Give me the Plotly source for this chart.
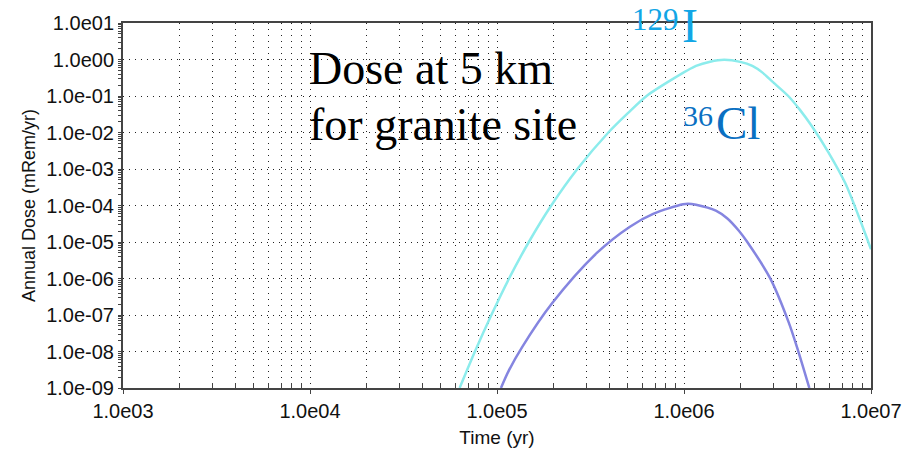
import plotly.graph_objects as go

# ---- data ----
i129_time = [6.31e4, 7.62e4, 9.33e4, 1.16e5, 1.48e5, 1.95e5, 2.69e5, 3.94e5, 5.01e5,
             6.31e5, 8.73e5, 1.16e6, 1.38e6, 1.64e6, 2.00e6, 2.32e6, 2.63e6, 2.96e6,
             3.61e6, 4.17e6, 4.83e6, 5.93e6, 7.28e6, 8.57e6, 9.66e6, 1.0e7]
i129_dose = [1.0e-9, 1.0e-8, 1.0e-7, 1.0e-6, 1.0e-5, 1.0e-4, 1.0e-3, 1.0e-2, 3.39e-2,
             1.0e-1, 2.94e-1, 6.67e-1, 8.71e-1, 9.77e-1, 8.61e-1, 6.67e-1, 4.37e-1, 2.51e-1,
             1.0e-1, 4.17e-2, 1.48e-2, 2.82e-3, 4.12e-4, 5.25e-5, 1.02e-5, 6.3e-6]

cl36_time = [1.05e5, 1.16e5, 1.36e5, 1.97e5, 3.42e5, 5.14e5, 6.84e5,
             9.89e5, 1.05e6, 1.16e6, 1.48e6, 1.70e6, 1.97e6, 2.18e6, 2.90e6, 3.63e6,
             4.10e6, 4.68e6]
cl36_dose = [1.0e-9, 3.09e-9, 1.30e-8, 2.09e-7, 5.01e-6, 2.63e-5, 5.89e-5,
             1.08e-4, 1.12e-4, 1.05e-4, 7.24e-5, 4.47e-5, 2.0e-5, 1.0e-5, 9.8e-7, 6.3e-8,
             9.5e-9, 1.0e-9]

x_tick_vals = [1e3, 1e4, 1e5, 1e6, 1e7]
x_tick_text = ["1.0e03", "1.0e04", "1.0e05", "1.0e06", "1.0e07"]
y_tick_vals = [1e1, 1e0, 1e-1, 1e-2, 1e-3, 1e-4, 1e-5, 1e-6, 1e-7, 1e-8, 1e-9]
y_tick_text = ["1.0e01", "1.0e00", "1.0e-01", "1.0e-02", "1.0e-03", "1.0e-04",
               "1.0e-05", "1.0e-06", "1.0e-07", "1.0e-08", "1.0e-09"]

x_minor = [m * 10 ** e for e in range(3, 7) for m in range(2, 10)]
y_minor = [m * 10.0 ** e for e in range(-9, 1) for m in range(2, 10)]

fig = go.Figure()
fig.add_trace(go.Scatter(x=i129_time, y=i129_dose, mode="lines", name="I-129",
                         line=dict(color="#8CECEC", width=2.5, shape="spline", smoothing=0.8)))
fig.add_trace(go.Scatter(x=cl36_time, y=cl36_dose, mode="lines", name="Cl-36",
                         line=dict(color="#8585E0", width=2.5, shape="spline", smoothing=0.9)))

sans = "Liberation Sans, Arial, sans-serif"
tick_font = dict(family=sans, size=20, color="#111")
grid_dash = "1px,5px"

fig.update_xaxes(type="log", range=[3, 7], tickmode="array", tickvals=x_tick_vals,
                 ticktext=x_tick_text, tickfont=tick_font,
                 showline=True, linecolor="#444", linewidth=2, mirror=True,
                 ticks="outside", ticklen=4, tickcolor="#444",
                 showgrid=True, gridcolor="#222", griddash=grid_dash, gridwidth=1,
                 zeroline=False,
                 minor=dict(tickmode="array", tickvals=x_minor, ticks="inside", ticklen=5,
                            tickcolor="#444", showgrid=True, gridcolor="#222",
                            griddash=grid_dash, gridwidth=1),
                 title=dict(text="Time (yr)", font=dict(family=sans, size=19, color="#111"),
                            standoff=10))
fig.update_yaxes(type="log", range=[-9, 1], tickmode="array", tickvals=y_tick_vals,
                 ticktext=y_tick_text, tickfont=tick_font,
                 showline=True, linecolor="#444", linewidth=2, mirror=True,
                 ticks="outside", ticklen=3, tickcolor="#444",
                 showgrid=True, gridcolor="#222", griddash=grid_dash, gridwidth=1,
                 zeroline=False,
                 minor=dict(tickmode="array", tickvals=y_minor, ticks="outside", ticklen=3,
                            tickcolor="#444", showgrid=False),
                 title=dict(text="Annual Dose (mRem/yr)",
                            font=dict(family=sans, size=18, color="#111"), standoff=6))

serif = "Liberation Serif, Times New Roman, serif"
def label(text, x, y, size, color):
    fig.add_annotation(text=text, xref="paper", yref="paper", x=x, y=y,
                       xanchor="left", yanchor="middle", showarrow=False,
                       font=dict(family=serif, size=size, color=color))

label("Dose at 5 km", 0.2457, 0.874, 46, "#000")
label("for granite site", 0.2457, 0.722, 46, "#000")
label("129", 0.678, 1.009, 31, "#12A6E6")
label("I", 0.744, 0.992, 48, "#12A6E6")
label("36", 0.7463, 0.747, 30, "#0A70C2")
label("Cl", 0.7905, 0.727, 47, "#0A70C2")

fig.update_layout(width=914, height=457, margin=dict(l=123, r=38, t=16, b=67),
                  paper_bgcolor="white", plot_bgcolor="white", showlegend=False)

fig.write_html("out.html", config={"displayModeBar": False},
               post_script="document.body.style.margin='0';document.body.style.overflow='hidden';")
